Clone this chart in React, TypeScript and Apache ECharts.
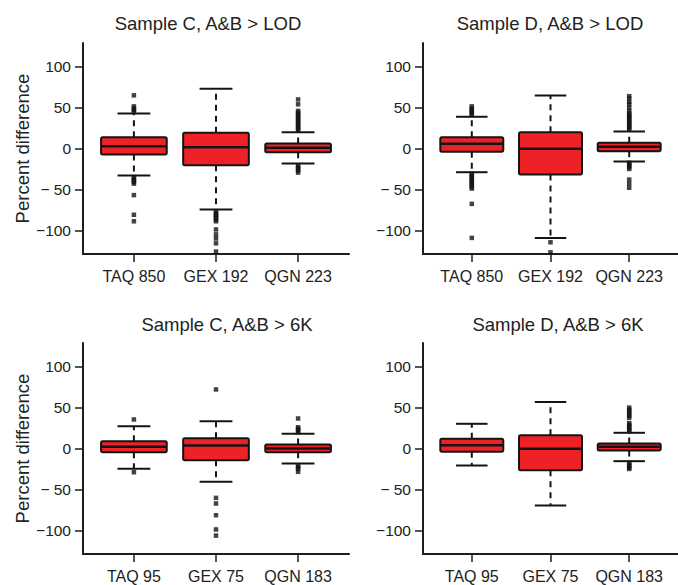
import React, { useEffect, useRef } from "react";
import * as echarts from "echarts";

// ---- data ----
const titles = [
  "Sample C, A&B > LOD",
  "Sample D, A&B > LOD",
  "Sample C, A&B > 6K",
  "Sample D, A&B > 6K",
];
const categoriesLod = ["TAQ 850", "GEX 192", "QGN 223"];
const categories6k = ["TAQ 95", "GEX 75", "QGN 183"];

const yTickValues = [-100, -50, 0, 50, 100];
const yTickLabels = ["\u2212100", "\u2212 50", "0", "50", "100"];

// [lower whisker, Q1, median, Q3, upper whisker]
const boxesCLod = [
  [-33, -7.3, 2.8, 13.8, 42.8],
  [-74.7, -20.4, 1.6, 19.2, 73],
  [-18.4, -4.5, 0.8, 6.1, 20],
];
const boxesDLod = [
  [-29, -4.1, 5.7, 13.8, 38.8],
  [-109.3, -31.8, -0.4, 20, 64.9],
  [-15.9, -3.3, 2, 7, 20.8],
];
const boxesC6k = [
  [-24.9, -4.5, 2, 9, 27.3],
  [-40.8, -14.3, 3.7, 12.6, 33.4],
  [-18.4, -4.5, 0, 4.9, 18],
];
const boxesD6k = [
  [-20.8, -4.1, 4.1, 11.8, 30.2],
  [-69.8, -26.5, -0.4, 16.3, 57],
  [-15.5, -2.5, 2, 6.1, 19.2],
];

// outliers per category
const outliersCLod = [
  [45, 47, 49, 51.5, 65, -35, -37, -39, -41, -43, -57, -81, -89],
  [-77, -79, -81, -83, -85, -87, -89, -99, -105, -110, -116, -126],
  [22, 24, 26, 28, 30, 32, 34, 36, 38, 40, 42, 44, 46, 54, 60, -21, -23, -25, -27, -29.5],
];
const outliersDLod = [
  [41, 43, 45, 47, 49, 51.5, -31, -33, -35, -37, -39, -41, -43, -45, -47, -49, -67.7, -109.3],
  [-114.7, -127],
  [23, 25, 27, 29, 31, 33, 35, 37, 39, 41, 43, 46, 50, 54, 57, 61, 64, -17.5, -19, -21, -23, -25, -38, -43, -48],
];
const outliersC6k = [
  [35.5, -29],
  [72.2, -60.4, -67.3, -81.6, -99, -106.5],
  [36.7, 20, 22, 24, 26, -21, -23, -25, -28.5],
];
const outliersD6k = [
  [],
  [],
  [21, 23, 25, 27, 29, 31, 37.5, 40, 42.5, 45, 47.5, 50, -17.5, -19.5, -21.5, -23.5, -25],
];

// ---- layout / style ----
const FONT = "'Liberation Sans', Arial, Helvetica, sans-serif";
const TEXT = "#222";
const RED = "#ED2226";
const INK = "#141414";
const BOX_W = 0.8;
const CAP_W = 0.4;

const panels = [
  { boxes: boxesCLod, outliers: outliersCLod, cats: categoriesLod, left: 83, top: 43, yName: true, tx: 208, ty: 23 },
  { boxes: boxesDLod, outliers: outliersDLod, cats: categoriesLod, left: 423, top: 43, yName: false, tx: 550, ty: 23 },
  { boxes: boxesC6k, outliers: outliersC6k, cats: categories6k, left: 83, top: 343, yName: true, tx: 227, ty: 324 },
  { boxes: boxesD6k, outliers: outliersD6k, cats: categories6k, left: 423, top: 343, yName: false, tx: 558, ty: 324 },
];

function renderBox(params: any, api: any) {
  const x = api.value(0);
  const lo = api.coord([x, api.value(1)]);
  const q1 = api.coord([x, api.value(2)]);
  const md = api.coord([x, api.value(3)]);
  const q3 = api.coord([x, api.value(4)]);
  const hi = api.coord([x, api.value(5)]);
  const bw = api.size([BOX_W, 0])[0];
  const cw = api.size([CAP_W, 0])[0];
  const cx = lo[0];
  const dash = { stroke: INK, lineWidth: 2, lineDash: [6, 5], fill: null };
  const solid = { stroke: INK, lineWidth: 2, fill: null };
  return {
    type: "group",
    children: [
      { type: "line", shape: { x1: cx, y1: q3[1], x2: cx, y2: hi[1] }, style: dash },
      { type: "line", shape: { x1: cx, y1: q1[1], x2: cx, y2: lo[1] }, style: dash },
      { type: "line", shape: { x1: cx - cw / 2, y1: hi[1], x2: cx + cw / 2, y2: hi[1] }, style: solid },
      { type: "line", shape: { x1: cx - cw / 2, y1: lo[1], x2: cx + cw / 2, y2: lo[1] }, style: solid },
      {
        type: "rect",
        shape: { x: cx - bw / 2, y: q3[1], width: bw, height: q1[1] - q3[1], r: 1.5 },
        style: { fill: RED, stroke: INK, lineWidth: 2 },
      },
      { type: "line", shape: { x1: cx - bw / 2, y1: md[1], x2: cx + bw / 2, y2: md[1] }, style: { stroke: INK, lineWidth: 2.5 } },
    ],
  };
}

export default function App() {
  const ref = useRef<HTMLDivElement>(null);
  useEffect(() => {
    if (!ref.current) return;
    const chart = echarts.init(ref.current, null, { renderer: "svg" });
    const grid: any[] = [];
    const xAxis: any[] = [];
    const yAxis: any[] = [];
    const series: any[] = [];
    const graphic: any[] = [];
    panels.forEach((p, i) => {
      grid.push({ left: p.left, top: p.top, width: 266, height: 211, containLabel: false });
      xAxis.push({
        type: "value",
        gridIndex: i,
        min: 0.38,
        max: 3.62,
        splitLine: { show: false },
        axisLine: { show: true, onZero: false, lineStyle: { color: "#1e1e1e", width: 2 } },
        axisTick: { show: true, customValues: [1, 2, 3], length: 8, lineStyle: { color: "#1e1e1e", width: 1.5 } },
        axisLabel: {
          customValues: [1, 2, 3],
          formatter: (v: number) => p.cats[Math.round(v) - 1] ?? "",
          margin: 14,
          fontSize: 16,
          fontFamily: FONT,
          color: TEXT,
        },
      });
      yAxis.push({
        type: "value",
        gridIndex: i,
        min: -129,
        max: 129,
        splitLine: { show: false },
        axisLine: { show: true, onZero: false, lineStyle: { color: "#1e1e1e", width: 2 } },
        axisTick: { show: true, customValues: yTickValues, length: 8, lineStyle: { color: "#1e1e1e", width: 1.5 } },
        axisLabel: {
          customValues: yTickValues,
          formatter: (v: number) => yTickLabels[yTickValues.indexOf(Math.round(v))] ?? "",
          margin: 12,
          fontSize: 15.5,
          fontFamily: FONT,
          color: TEXT,
        },
        name: p.yName ? "Percent difference" : "",
        nameLocation: "middle",
        nameRotate: 90,
        nameGap: 51,
        nameTextStyle: { fontSize: 18.5, fontFamily: FONT, color: TEXT },
      });
      series.push({
        type: "custom",
        xAxisIndex: i,
        yAxisIndex: i,
        clip: false,
        renderItem: renderBox,
        encode: { x: 0, y: [1, 2, 3, 4, 5] },
        data: p.boxes.map((b, k) => [k + 1, ...b]),
        z: 2,
      });
      const pts: number[][] = [];
      p.outliers.forEach((arr, k) => arr.forEach((v) => pts.push([k + 1, v])));
      series.push({
        type: "scatter",
        xAxisIndex: i,
        yAxisIndex: i,
        symbol: "rect",
        symbolSize: 4.5,
        itemStyle: { color: INK },
        data: pts,
        z: 3,
      });
      graphic.push({
        type: "text",
        x: p.tx,
        y: p.ty,
        style: {
          text: titles[i],
          align: "center",
          verticalAlign: "middle",
          fontSize: 18.5,
          fontFamily: FONT,
          fill: TEXT,
        },
      });
    });
    chart.setOption({
      animation: false,
      backgroundColor: "#ffffff",
      grid,
      xAxis,
      yAxis,
      series,
      graphic,
    });
    return () => chart.dispose();
  }, []);
  return (
    <div
      ref={ref}
      style={{ position: "fixed", left: 0, top: 0, width: 678, height: 585, background: "#fff" }}
    />
  );
}
